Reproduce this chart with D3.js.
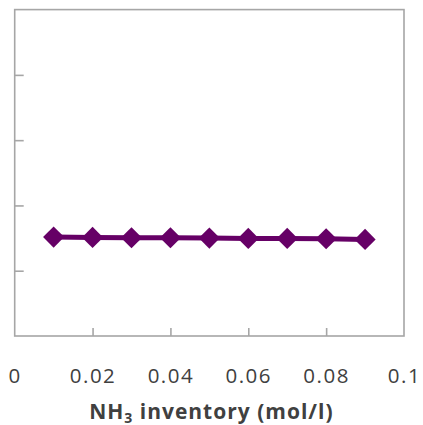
<!DOCTYPE html>
<html>
<head>
<meta charset="utf-8">
<script src="https://cdn.jsdelivr.net/npm/d3@7"></script>
<style>
  html, body { margin: 0; padding: 0; background: #fff; }
  svg { display: block; }
</style>
</head>
<body>
<svg id="chart" width="423" height="425"></svg>
<script>
// NH3 inventory (mol/l) against the measured quantity
const inventory = [0.01, 0.02, 0.03, 0.04, 0.05, 0.06, 0.07, 0.08, 0.09];
const values = [1.515, 1.51, 1.505, 1.505, 1.5, 1.495, 1.495, 1.49, 1.48];
const xTicks = [0, 0.02, 0.04, 0.06, 0.08, 0.1];
const xTickLabels = ["0", "0.02", "0.04", "0.06", "0.08", "0.1"];
const yTicks = [1, 2, 3, 4];

const svg = d3.select("#chart");
const margin = { left: 14.7, right: 19, top: 9.6, bottom: 89 };
const W = 423, H = 425;

const x = d3.scaleLinear().domain([0, 0.1]).range([margin.left, W - margin.right]);
const y = d3.scaleLinear().domain([0, 5]).range([H - margin.bottom, margin.top]);

const axisColor = "#a6a6a6";
const purple = "#660066";
const textColor = "#404040";
const font = "'Open Sans', Lato, sans-serif";

// plot frame
svg.append("rect")
  .attr("x", x(0)).attr("y", y(5))
  .attr("width", x(0.1) - x(0)).attr("height", y(0) - y(5))
  .attr("fill", "none").attr("stroke", axisColor).attr("stroke-width", 1.6);

// y ticks pointing inward, no labels
const yAxis = d3.axisRight(y).tickValues(yTicks).tickSize(9).tickFormat("");
svg.append("g").attr("transform", `translate(${x(0)},0)`).call(yAxis)
  .call(g => g.select(".domain").remove())
  .call(g => g.selectAll("line").attr("stroke", axisColor).attr("stroke-width", 1.6));

// x ticks pointing inward
const xAxisTicks = d3.axisTop(x).tickValues(xTicks.slice(1, -1)).tickSize(8).tickFormat("");
svg.append("g").attr("transform", `translate(0,${y(0)})`).call(xAxisTicks)
  .call(g => g.select(".domain").remove())
  .call(g => g.selectAll("line").attr("stroke", axisColor).attr("stroke-width", 1.6));

// x tick labels
const xAxisLabels = d3.axisBottom(x).tickValues(xTicks).tickSize(0).tickPadding(0)
  .tickFormat((d, i) => xTickLabels[i]);
svg.append("g").attr("transform", `translate(0,${y(0)})`).call(xAxisLabels)
  .call(g => g.select(".domain").remove())
  .call(g => g.selectAll("text")
    .attr("dy", null).attr("y", 47)
    .attr("font-family", font)
    .attr("font-size", 20.5).attr("letter-spacing", 1.5)
    .attr("fill", textColor));

// x axis title with subscript
const title = svg.append("text")
  .attr("x", (x(0) + x(0.1)) / 2 + 2).attr("y", 418.5)
  .attr("text-anchor", "middle")
  .attr("font-family", font)
  .attr("font-weight", "bold").attr("font-size", 21).attr("letter-spacing", 1)
  .attr("fill", textColor);
title.append("tspan").text("NH");
title.append("tspan").attr("font-size", 14).attr("dy", 4).text("3");
title.append("tspan").attr("dy", -4).text(" inventory (mol/l)");

// series line
const line = d3.line().x((d, i) => x(inventory[i])).y(d => y(d));
svg.append("path").datum(values)
  .attr("d", line).attr("fill", "none")
  .attr("stroke", purple).attr("stroke-width", 5);

// diamond markers
const diamond = d3.symbol().type(d3.symbolDiamond2).size(285);
svg.append("g").selectAll("path").data(values).join("path")
  .attr("transform", (d, i) => `translate(${x(inventory[i])},${y(d)})`)
  .attr("d", diamond)
  .attr("fill", purple);
</script>
</body>
</html>
